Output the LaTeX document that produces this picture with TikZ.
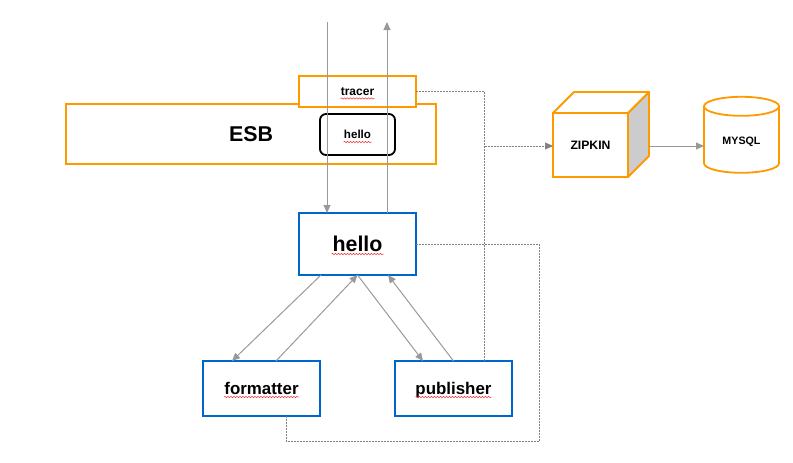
\documentclass[tikz,border=0pt]{standalone}
\usepackage{fontspec}
\setsansfont{Liberation Sans}
\usepackage{xcolor}
\definecolor{ink}{HTML}{000000}
\definecolor{amberLine}{HTML}{FF9900}
\definecolor{blueLine}{HTML}{0066CC}
\definecolor{wireGray}{HTML}{999999}
\definecolor{dashGray}{HTML}{808080}
\definecolor{sideGray}{HTML}{CCCCCC}
\definecolor{spellRed}{HTML}{F03A3A}
\usepackage{tikz}
\usetikzlibrary{arrows.meta, positioning, shapes.geometric, calc, decorations.pathmorphing}

\begin{document}
\begin{tikzpicture}[
  x=1pt, y=-1pt,
  font=\sffamily\bfseries,
  every node/.style={align=center, text=ink, inner sep=0pt, outer sep=0pt},
  sized/.style={font=\sffamily\bfseries\fontsize{#1}{#1}\selectfont, text height={0.72*#1pt}, text depth=0pt},
  box/.style={rectangle, draw=#1, line width=1.8pt, fill=white},
  gateBox/.style={box=amberLine, minimum width=370pt, minimum height=60pt, sized=21.4},
  tracerBox/.style={box=amberLine, minimum width=117pt, minimum height=31pt, sized=12},
  routeBox/.style={rectangle, rounded corners=6pt, draw=black, line width=1.8pt, fill=white, minimum width=75pt, minimum height=41pt, sized=11.6},
  appBox/.style={box=blueLine, minimum width=117pt, minimum height=62pt, sized=21.4},
  libBox/.style={box=blueLine, minimum width=117pt, minimum height=55pt, sized=16.9},
  cubeFront/.style={box=amberLine, minimum width=75pt, minimum height=64pt, sized=12.2},
  cubeEdge/.style={draw=amberLine, line width=1.8pt, line join=round},
  dbBox/.style={cylinder, shape border rotate=90, aspect=0.5, draw=amberLine, line width=1.8pt, minimum width=75pt, minimum height=76pt, font=\sffamily\bfseries\fontsize{10.7}{13}\selectfont, text height=9pt, text depth=0pt},
  arrow/.style={-{Triangle[length=8pt, width=7pt]}, wireGray, line width=1pt},
  dashWire/.style={dashGray, line width=0.6pt, dash pattern=on 2pt off 1pt},
  dashArrow/.style={dashWire, -{Triangle[length=8pt, width=7pt]}, dash pattern=on 2pt off 1pt},
  squiggle/.style={spellRed, line width=0.5pt, decorate, decoration={snake, amplitude=0.7pt, segment length=3pt}},
]
\useasboundingbox (0,0) rectangle (793,463);

% ------------------- Gateway -------------------
\node[gateBox] (esb) at (251,134) {ESB};
\node[routeBox] (route) at (357.5,134.5) {hello};
\node[tracerBox] (tracer) at (357.5,91.5) {tracer};

% ------------------- Services ------------------
\node[appBox, below=106pt of tracer] (helloApp) {hello};
\node[libBox, below=86pt of helloApp, xshift=-96pt] (formatter) {formatter};
\node[libBox, below=86pt of helloApp, xshift=96pt] (publisher) {publisher};

% ------------------- Storage -------------------
\node[cubeFront] (zipkin) at (590.5,145) {ZIPKIN};
\coordinate (backNE) at ($(zipkin.north east)+(21,-21)$);
\coordinate (backNW) at ($(zipkin.north west)+(21,-21)$);
\coordinate (backSE) at ($(zipkin.south east)+(21,-21)$);
\draw[cubeEdge, fill=sideGray] (zipkin.north east) -- (backNE) -- (backSE) -- (zipkin.south east) -- cycle;
\draw[cubeEdge, fill=white] (zipkin.north west) -- (backNW) -- (backNE) -- (zipkin.north east) -- cycle;
\node[dbBox, right=76pt of zipkin, yshift=5pt] (mysql) {MYSQL};

% Request path through the gateway
\coordinate (inTop) at (327,22);
\coordinate (outTop) at (387,22);
\draw[arrow] (inTop) -- (inTop |- helloApp.north);
\draw[arrow] (outTop |- helloApp.north) -- (outTop);

% Calls between services
\draw[arrow] ([xshift=-36.5pt]helloApp.south) -- ([xshift=-29.5pt]formatter.north);
\draw[arrow] ([xshift=14.5pt]formatter.north) -- (helloApp.south);
\draw[arrow] (helloApp.south) -- ([xshift=-30.5pt]publisher.north);
\draw[arrow] (publisher.north) -- ([xshift=30.5pt]helloApp.south);

% Span reporting
\coordinate (bus) at (484.5,146);
\coordinate (loopCorner) at (539.5,441);
\draw[dashWire] (tracer.east) -| (bus);
\draw[dashWire] (bus |- publisher.north) -- (bus);
\draw[dashArrow] (bus) -- (bus -| zipkin.west);
\draw[dashWire] (helloApp.east) -| (loopCorner) -| ([xshift=24.5pt]formatter.south);
\draw[arrow] (backSE |- bus) -- (mysql.west |- bus);

% Spell-check underlines
\foreach \n/\w/\d in {tracer/17/7, route/14/7.5, helloApp/26/10, formatter/37.5/8.5, publisher/38/8.5} {
  \draw[squiggle] ([xshift=-\w pt, yshift=-\d pt]\n.center) -- ([xshift=\w pt, yshift=-\d pt]\n.center);
}

\end{tikzpicture}
\end{document}
